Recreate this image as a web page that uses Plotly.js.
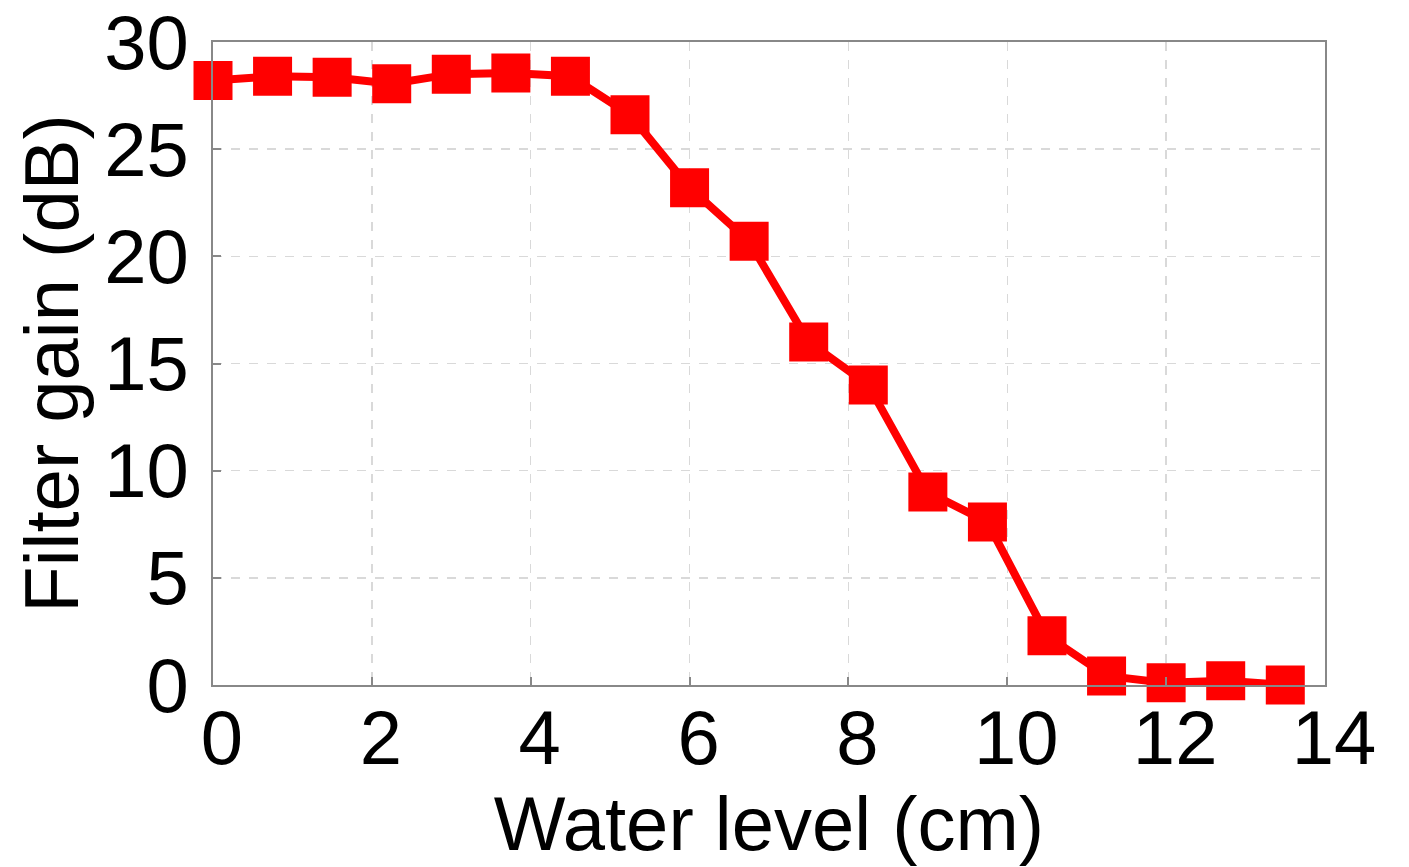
<!DOCTYPE html>
<html>
<head>
<meta charset="utf-8">
<script src="https://cdn.plot.ly/plotly-3.0.1.min.js"></script>
<style>html,body{margin:0;padding:0;background:#fff;}#chart{width:1409px;height:867px;}</style>
</head>
<body>
<div id="chart"></div>
<script>
const waterLevel = [0, 0.75, 1.5, 2.25, 3, 3.75, 4.5, 5.25, 6, 6.75, 7.5, 8.25, 9, 9.75, 10.5, 11.25, 12, 12.75, 13.5];
const filterGain = [28.2, 28.4, 28.35, 28.05, 28.5, 28.55, 28.4, 26.6, 23.2, 20.7, 16.0, 14.0, 9.0, 7.6, 2.3, 0.42, 0.1, 0.2, 0.0];
const xTicks = [0, 2, 4, 6, 8, 10, 12, 14];
const yTicks = [0, 5, 10, 15, 20, 25, 30];

const font = {family: 'Liberation Sans, Arial, sans-serif', color: '#000'};

Plotly.newPlot('chart', [{
  x: waterLevel, y: filterGain, type: 'scatter', mode: 'lines+markers',
  line: {color: '#ff0000', width: 8},
  marker: {symbol: 'square', size: 39, color: '#ff0000'},
  cliponaxis: false, showlegend: false
}], {
  width: 1409, height: 867,
  margin: {l: 213, r: 84, t: 42, b: 182},
  paper_bgcolor: '#fff', plot_bgcolor: '#fff',
  xaxis: {
    range: [0, 14], tickvals: xTicks, ticktext: xTicks.map(String),
    showgrid: true, gridcolor: '#d9d9d9', griddash: 'dash', gridwidth: 1.5,
    showline: true, linecolor: '#888', linewidth: 2, mirror: true,
    ticks: 'inside', ticklen: 8, tickcolor: '#888', tickwidth: 2,
    zeroline: false, ticklabelshift: 9, ticklabelstandoff: -14,
    ticklabeloverflow: 'allow',
    tickfont: Object.assign({size: 76}, font),
    title: {text: 'Water level (cm)', font: Object.assign({size: 76}, font), standoff: 18}
  },
  yaxis: {
    range: [0, 30], tickvals: yTicks, ticktext: yTicks.map(String),
    showgrid: true, gridcolor: '#d9d9d9', griddash: 'dash', gridwidth: 1.5,
    showline: true, linecolor: '#888', linewidth: 2, mirror: true,
    ticks: 'inside', ticklen: 8, tickcolor: '#888', tickwidth: 2,
    zeroline: false, ticklabelstandoff: 7, ticklabeloverflow: 'allow',
    tickfont: Object.assign({size: 76}, font),
    title: {text: 'Filter gain (dB)', font: Object.assign({size: 76}, font), standoff: 1}
  }
}, {displayModeBar: false, staticPlot: true});
</script>
</body>
</html>
